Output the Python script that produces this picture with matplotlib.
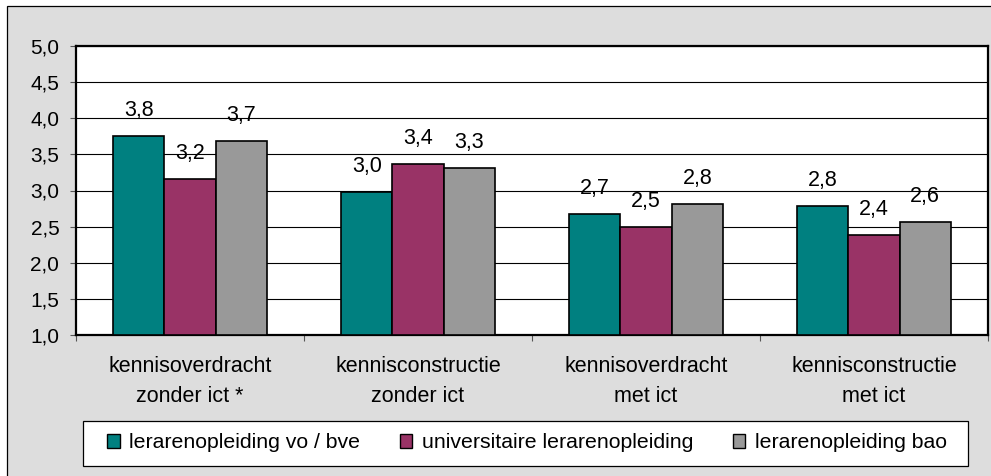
import numpy as np
import matplotlib.pyplot as plt
from matplotlib.patches import Patch, Rectangle

plt.rcParams['font.family'] = ['Liberation Sans', 'DejaVu Sans']

# Data
categories = ['kennisoverdracht\nzonder ict *', 'kennisconstructie\nzonder ict',
              'kennisoverdracht\nmet ict', 'kennisconstructie\nmet ict']
series_names = ['lerarenopleiding vo / bve', 'universitaire lerarenopleiding',
                'lerarenopleiding bao']
vo_bve = [3.76, 2.98, 2.68, 2.79]
universitair = [3.16, 3.36, 2.49, 2.38]
bao = [3.69, 3.31, 2.82, 2.56]
yticks = [1.0, 1.5, 2.0, 2.5, 3.0, 3.5, 4.0, 4.5, 5.0]

colors = ['#008080', '#993366', '#999999']
series = [vo_bve, universitair, bao]

W, H = 991, 476
fig = plt.figure(figsize=(W / 100, H / 100), dpi=100, facecolor='white')

# grey chart area with a border (top/left visible, rest cropped)
fig.patches.append(Rectangle((7 / W, -0.1), 1.1, 1 - 6 / H + 0.1,
                             transform=fig.transFigure, facecolor='#DDDDDD',
                             edgecolor='black', linewidth=0.9, zorder=-10))

ax = fig.add_axes([76 / W, 1 - 335 / H, (988 - 76) / W, (335 - 46) / H])
ax.set_facecolor('white')

x = np.arange(len(categories))
bw = 0.225
for i, (vals, c) in enumerate(zip(series, colors)):
    pos = x + (i - 1) * bw
    ax.bar(pos, np.array(vals) - 1.0, bottom=1.0, width=bw, color=c,
           edgecolor='black', linewidth=1.2, zorder=3, label=series_names[i])
    for px, v in zip(pos, vals):
        ax.annotate(f'{v:.1f}'.replace('.', ','), (px, v), xytext=(0, 14.4),
                    textcoords='offset points', ha='center', va='baseline',
                    fontsize=15.5)

ax.set_ylim(1.0, 5.0)
ax.set_xlim(-0.5, 3.5)
ax.set_yticks(yticks)
ax.set_yticklabels([f'{t:.1f}'.replace('.', ',') for t in yticks], fontsize=15)
ax.yaxis.grid(True, color='black', linewidth=0.8, zorder=0)
ax.set_axisbelow(True)

ax.set_xticks(np.arange(-0.5, 4.0, 1.0), minor=False)
ax.set_xticklabels([])
ax.set_xticks(x, minor=True)
ax.set_xticklabels(categories, minor=True, fontsize=15.5, linespacing=1.55)
ax.tick_params(axis='x', which='major', length=4, width=0.8, color='#555555')
ax.tick_params(axis='x', which='minor', length=0, pad=15)
ax.tick_params(axis='y', length=4, width=0.8, color='#555555', pad=8)

for s in ax.spines.values():
    s.set_linewidth(1.6)
    s.set_color('black')

# legend box
fig.patches.append(Rectangle((83 / W, 1 - 466 / H), (968 - 83) / W, 45 / H,
                             transform=fig.transFigure, facecolor='white',
                             edgecolor='black', linewidth=0.9, zorder=1))
handles = [Patch(facecolor=c, edgecolor='black', linewidth=1.0) for c in colors]
leg = fig.legend(handles, series_names, loc='center left', ncol=3,
                 bbox_to_anchor=(107 / W, 1 - 443 / H),
                 fontsize=15.3, frameon=False,
                 handlelength=0.6, handleheight=0.6, handletextpad=0.45,
                 columnspacing=1.85, borderaxespad=0, borderpad=0)

fig.savefig('out.png', dpi=100, facecolor=fig.get_facecolor())
